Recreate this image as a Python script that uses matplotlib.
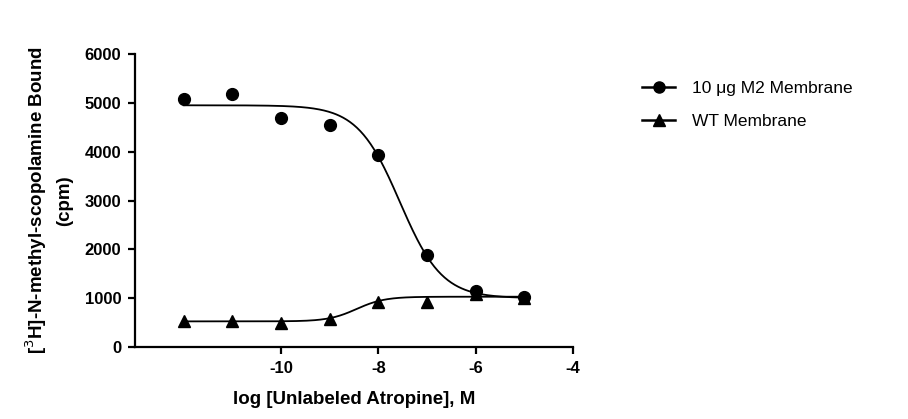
import numpy as np
import matplotlib
matplotlib.use("Agg")
import matplotlib.pyplot as plt

plt.rcParams['font.family'] = ['Liberation Sans', 'DejaVu Sans']
plt.rcParams['axes.unicode_minus'] = False

# log [atropine], M
log_conc = [-12, -11, -10, -9, -8, -7, -6, -5]
m2_cpm = [5075, 5175, 4685, 4540, 3930, 1890, 1140, 1020]
wt_cpm = [525, 525, 495, 575, 930, 930, 1080, 1000]

# four-parameter logistic fits (bottom, top, logEC50, hill)
m2_fit = (1000, 4950, -7.56, -1.0)
wt_fit = (525, 1030, -8.45, 1.5)


def logistic(x, bottom, top, logec50, hill):
    return bottom + (top - bottom) / (1 + 10 ** ((logec50 - x) * hill))


fig = plt.figure(figsize=(9.08, 4.19), dpi=100)
ax = fig.add_axes([0.1487, 0.1718, 0.4824, 0.6993])

xs = np.linspace(-12, -5, 300)
ax.plot(xs, logistic(xs, *m2_fit), color='black', lw=1.3)
ax.plot(xs, logistic(xs, *wt_fit), color='black', lw=1.3)
ax.plot(log_conc, m2_cpm, 'o', color='black', ms=8.5)
ax.plot(log_conc, wt_cpm, '^', color='black', ms=8.5)

ax.set_xlim(-13, -4)
ax.set_ylim(0, 6000)
ax.set_xticks([-10, -8, -6, -4])
ax.set_yticks(range(0, 6001, 1000))
for s in ['top', 'right']:
    ax.spines[s].set_visible(False)
for s in ['left', 'bottom']:
    ax.spines[s].set_linewidth(1.6)
ax.tick_params(direction='out', length=5, width=1.6, labelsize=12, pad=5)
for lbl in ax.get_xticklabels() + ax.get_yticklabels():
    lbl.set_fontweight('bold')

ax.set_xlabel('log [Unlabeled Atropine], M', fontsize=13.5, fontweight='bold', labelpad=11)
ax.set_ylabel('[$^{3}$H]-N-methyl-scopolamine Bound\n(cpm)', fontsize=13.5,
              fontweight='bold', labelpad=8, linespacing=1.55)

h1, = ax.plot([], [], '-o', color='black', ms=8, lw=1.8)
h2, = ax.plot([], [], '-^', color='black', ms=8, lw=1.8)
fig.legend([h1, h2], ['10 \u03bcg M2 Membrane', 'WT Membrane'],
           loc='upper left', bbox_to_anchor=(0.69, 0.845), frameon=False,
           fontsize=12.5, handlelength=1.9, handletextpad=1.0, labelspacing=1.05)

fig.savefig('out.png', dpi=100)
